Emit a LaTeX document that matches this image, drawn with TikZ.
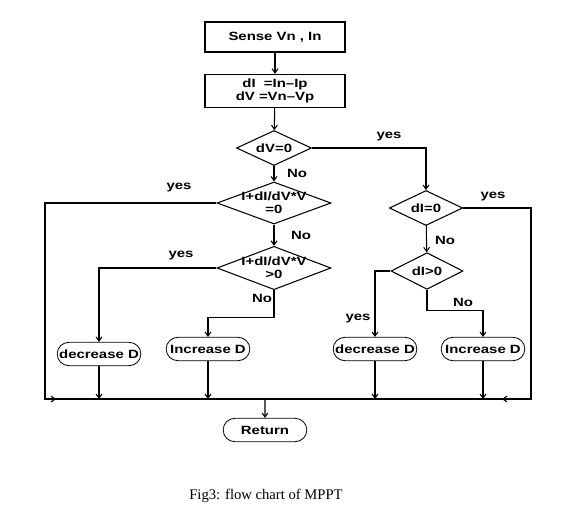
\documentclass[tikz,border=0pt]{standalone}
\usepackage{fontspec}
\usepackage{tikz}
\usetikzlibrary{shapes.geometric, shapes.misc, arrows.meta}
\newfontfamily\chartfont{Liberation Sans}[FakeStretch=1.25]
\newfontfamily\capfont{Liberation Serif}
\tikzset{
  every node/.style={font=\chartfont\bfseries\fontsize{10.2}{11}\selectfont},
  every label/.style={align=center, inner sep=0pt},
  box/.style={draw, line width=0.9pt, rectangle, minimum width=4.2cm,
    align=center, inner sep=1pt},
  test/.style={draw, line width=0.9pt, diamond, inner sep=0pt},
  term/.style={draw, line width=0.7pt, rounded rectangle,
    minimum width=2.58cm, minimum height=0.7cm, inner sep=1pt},
  flow/.style={line width=0.9pt, -{Straight Barb[length=3.5pt,width=5pt]}},
  wire/.style={line width=0.9pt},
  lbl/.style={inner sep=0pt},
}

\begin{document}
\begin{tikzpicture}[x=0.03cm, y=-0.03cm]
  \useasboundingbox (0,0) rectangle (576,524);

  % blocks
  \node[box, minimum height=0.9cm] (sense) at (275,37) {Sense Vn , In};
  \node[box, minimum height=1cm] (diff) at (275,91)
    {dI\ \ =In–Ip\\dV =Vn–Vp};

  % tests
  \node[test, minimum width=2.25cm, minimum height=1.05cm,
    label={center:dV=0}] (dv0) at (274,148) {};
  \node[test, minimum width=3.42cm, minimum height=1.26cm,
    label={center:I+dI/dV*V\\=0}] (eq0) at (274,203) {};
  \node[test, minimum width=3.42cm, minimum height=1.3cm,
    label={center:I+dI/dV*V\\>0}] (gt0) at (274,268) {};
  \node[test, minimum width=2.2cm, minimum height=1.05cm,
    label={center:dI=0}] (di0) at (426,208) {};
  \node[test, minimum width=2.16cm, minimum height=1.1cm,
    label={center:dI>0}] (di1) at (427,271) {};

  % actions
  \node[term] (decL) at (99,354) {decrease D};
  \node[term] (incL) at (208,349) {Increase D};
  \node[term] (decR) at (375,349) {decrease D};
  \node[term] (incR) at (483,349) {Increase D};
  \node[term] (ret)  at (265,430) {Return};

  % bottom rail
  \coordinate (bl) at (45,399);
  \coordinate (br) at (531,399);
  \coordinate (blin) at (56,399);
  \coordinate (brin) at (502,399);

  % connectors
  \draw[flow] (sense) -- (diff);
  \draw[flow] (diff) -- (dv0);
  \draw[flow] (dv0.east) -| (di0.north);
  \draw[flow] (dv0) -- (eq0);
  \draw[flow] (eq0.west) -| (bl) -- (blin);
  \draw[flow] (eq0) -- (gt0);
  \draw[flow] (gt0.west) -| (decL.north);
  \draw[flow] (gt0.south) -- ++(0,27) -| (incL.north);
  \draw[flow] (di0.east) -| (br) -- (brin);
  \draw[flow] (di0) -- (di1);
  \draw[flow] (di1.west) -| (decR.north);
  \draw[flow] (di1.south) -- ++(0,21) -| (incR.north);

  \draw[wire] (bl) -- (br);
  \foreach \n in {decL, incL, decR, incR}
    \draw[flow] (\n.south) -- (\n.south |- bl);
  \draw[flow] (ret.north |- bl) -- (ret);

  % branch labels
  \node[lbl] at (389,137) {yes};
  \node[lbl] at (297,173) {No};
  \node[lbl] at (179,188) {yes};
  \node[lbl] at (301,235) {No};
  \node[lbl] at (181,256) {yes};
  \node[lbl] at (262,298) {No};
  \node[lbl] at (493,197) {yes};
  \node[lbl] at (445,240) {No};
  \node[lbl] at (358,319) {yes};
  \node[lbl] at (463,302) {No};

  % caption
  \node[font=\capfont\fontsize{12.5}{14}\selectfont] (cap) at (266,496)
    {Fig3: flow chart of MPPT};
\end{tikzpicture}
\end{document}
